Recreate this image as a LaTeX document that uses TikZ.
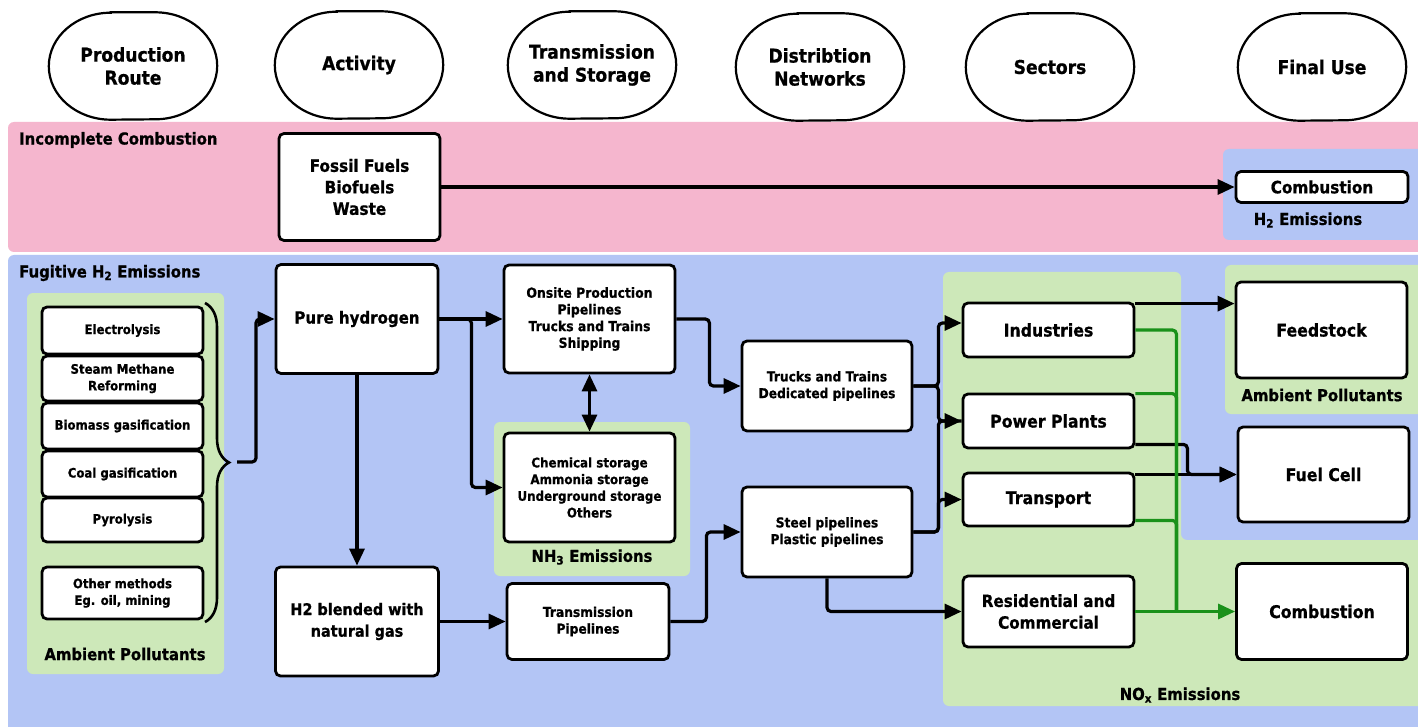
\documentclass[tikz,border=0pt]{standalone}
\usepackage{fontspec}
\setmainfont{DejaVu Sans}[FakeStretch=0.9, BoldFeatures={FakeBold=0.8}]
\usetikzlibrary{arrows.meta,decorations.pathreplacing,calc}
\definecolor{pinkbg}{RGB}{245,182,206}
\definecolor{bluebg}{RGB}{179,197,245}
\definecolor{greenbg}{RGB}{205,232,185}
\definecolor{glinec}{RGB}{26,145,26}
\newcommand\fs[2]{\fontsize{#1}{#2}\selectfont\bfseries}
\newcommand\hdrshape[1]{%
  \filldraw[fill=white, line width=2.2pt]
    ($(#1.north west)+(62,0)$) -- ($(#1.north east)+(-62,0)$)
    arc[start angle=90, end angle=0, x radius=62pt, y radius=53.5pt]
    arc[start angle=0, end angle=-90, x radius=62pt, y radius=53.5pt]
    -- ($(#1.south west)+(62,0)$)
    arc[start angle=270, end angle=180, x radius=62pt, y radius=53.5pt]
    arc[start angle=180, end angle=90, x radius=62pt, y radius=53.5pt] -- cycle;}
\begin{document}
\begin{tikzpicture}[x=1pt,y=-1pt,
  box/.style={draw, line width=2.8pt, rounded corners=5pt, fill=white, align=center, inner sep=0pt},
  hdr/.style={minimum width=168pt, minimum height=107pt, align=center, inner sep=0pt, font={\fs{19}{23}}},
  conn/.style={line width=3.2pt, rounded corners=4pt},
  arr/.style={conn, -{Triangle[length=17pt,width=15pt]}},
  garr/.style={conn, draw=glinec, -{Triangle[length=17pt,width=15pt]}},
  gconn/.style={conn, draw=glinec},
  lbl/.style={inner sep=0pt, font={\fs{16.5}{20}}},
  pbox/.style={box, minimum width=161pt, font={\fs{13}{16.7}}},
  sbox/.style={box, minimum width=171pt, font={\fs{17.5}{21.7}}},
  tbox/.style={box, font={\fs{13.6}{16.7}}}
]
\clip (0,0) rectangle (1418,727);
\fill[white] (0,0) rectangle (1418,727);
% bands
\fill[pinkbg, rounded corners=6pt] (8,122) rectangle (1440,252);
\fill[bluebg, rounded corners=6pt] (8,255) rectangle (1440,745);
\fill[bluebg, rounded corners=6pt] (1223,149) rectangle (1440,240);
\fill[greenbg, rounded corners=6pt] (27,293) rectangle (224,674);
\fill[greenbg, rounded corners=6pt] (494,422) rectangle (690,576);
\fill[greenbg, rounded corners=6pt] (1225,265) rectangle (1440,414);
\fill[greenbg, rounded corners=6pt] (943,272) -- (1181,272) -- (1181,540) -- (1440,540) -- (1440,706) -- (943,706) -- cycle;

% headers
\path (133,66) node[hdr] (h1) {} (359,65) node[hdr] (h2) {} (592,65) node[hdr] (h3) {}
      (820,67) node[hdr] (h4) {} (1050,67) node[hdr] (h5) {} (1322,67) node[hdr] (h6) {};
\hdrshape{h1}\hdrshape{h2}\hdrshape{h3}\hdrshape{h4}\hdrshape{h5}\hdrshape{h6}
\node[hdr] (t1) at (h1) {Production\\Route};
\node[hdr] (t2) at (h2) {Activity};
\node[hdr] (t3) at (h3) {Transmission\\and Storage};
\node[hdr] (t4) at (h4) {Distribtion\\Networks};
\node[hdr] (t5) at (h5) {Sectors};
\node[hdr] (t6) at (h6) {Final Use};

% labels
\node[lbl, anchor=west] (lic) at (19,140) {Incomplete Combustion};
\node[lbl, anchor=west] (lfe) at (19,273) {Fugitive H\textsubscript{2} Emissions};
\node[lbl] (lap1) at (125,654) {Ambient Pollutants};
\node[lbl] (lh2) at (1308,220) {H\textsubscript{2} Emissions};
\node[lbl] (lnh) at (592,557) {NH\textsubscript{3} Emissions};
\node[lbl] (lap2) at (1322,395) {Ambient Pollutants};
\node[lbl] (lnox) at (1180,695) {NO\textsubscript{x} Emissions};

% activity
\node[box, minimum width=161pt, minimum height=107pt, font={\fs{17}{21.5}}] (fossil) at (359.5,187) {Fossil Fuels\\Biofuels\\Waste};
\node[box, minimum width=172pt, minimum height=31pt, font={\fs{17}{21}}] (comb1) at (1322,187) {Combustion};

% production routes
\node[pbox, minimum height=47pt] (elec) at (122.5,330.5) {Electrolysis};
\node[pbox, minimum height=45pt] (smr) at (122.5,378.5) {Steam Methane\\Reforming};
\node[pbox, minimum height=46pt] (bio) at (122.5,426) {Biomass gasification};
\node[pbox, minimum height=46pt] (coal) at (122.5,474) {Coal gasification};
\node[pbox, minimum height=44pt] (pyro) at (122.5,520) {Pyrolysis};
\node[pbox, minimum height=52pt] (other) at (122.5,593) {Other methods\\Eg. oil, mining};
\draw[line width=2.6pt, decorate, decoration={brace, amplitude=24pt, aspect=0.5}] (205,303) -- (205,622);
\coordinate (bt) at (237,462);

% activity column
\node[box, minimum width=162pt, minimum height=109pt, font={\fs{16.7}{21}}] (pure) at (357,319) {Pure hydrogen};
\node[box, minimum width=163pt, minimum height=109pt, font={\fs{16}{21.7}}] (blend) at (357,621.5) {H2 blended with\\natural gas};

% transmission and storage
\node[tbox, minimum width=171pt, minimum height=108pt, font={\fs{13.8}{16.7}}] (onsite) at (589.5,319) {Onsite Production\\Pipelines\\Trucks and Trains\\Shipping};
\node[tbox, minimum width=171pt, minimum height=109pt, font={\fs{13.2}{16.7}}] (chem) at (589.5,487.5) {Chemical storage\\Ammonia storage\\Underground storage\\Others};
\node[tbox, minimum width=162pt, minimum height=76pt] (tpipe) at (588,621.5) {Transmission\\Pipelines};

% distribution
\node[tbox, minimum width=170pt, minimum height=90pt] (trucks) at (827,386) {Trucks and Trains\\Dedicated pipelines};
\node[tbox, minimum width=170pt, minimum height=90pt] (steel) at (827,532) {Steel pipelines\\Plastic pipelines};

% sectors
\node[sbox, minimum height=54pt] (ind) at (1048.5,330) {Industries};
\node[sbox, minimum height=54pt] (power) at (1048.5,421) {Power Plants};
\node[sbox, minimum height=53pt] (transp) at (1048.5,499.5) {Transport};
\node[sbox, minimum height=71pt, font={\fs{16.9}{21.7}}] (resid) at (1048.5,611.5) {Residential and\\Commercial};

% final use
\node[sbox, minimum height=96pt] (feed) at (1321.5,330) {Feedstock};
\node[sbox, minimum height=95pt] (fuel) at (1323.5,474.5) {Fuel Cell};
\node[sbox, minimum height=96pt] (comb2) at (1322,611.5) {Combustion};

% connectors
\draw[arr] (fossil.east) -- (comb1.west);
\draw[arr] (bt) -- ++(19,0) |- (pure.west);
\draw[arr] (pure.south) -- (blend.north);
\draw[arr] (pure.east) -- (onsite.west);
\draw[arr] (pure.east) -- ++(32,0) |- (chem.west);
\draw[conn, {Triangle[length=17pt,width=15pt]}-{Triangle[length=17pt,width=15pt]}] (onsite.south) -- (chem.north);
\draw[arr] (blend.east) -- (tpipe.west);
\draw[arr] (onsite.east) -- ++(33,0) |- (trucks.west);
\draw[arr] (tpipe.east) -- ++(36,0) |- (steel.west);
\draw[arr] (trucks.east) -- ++(25,0) |- ([yshift=7pt]ind.west);
\draw[arr] (trucks.east) -- ++(25,0) |- (power.west);
\draw[conn] (steel.east) -- ++(25,0) |- (power.west);
\draw[arr] (steel.east) -- ++(25,0) |- (transp.west);
\draw[arr] (steel.south) |- (resid.west);
\draw[arr] ([yshift=-2pt]ind.north east) -- ([yshift=-2pt]ind.north east -| feed.west);
\draw[arr] ([yshift=5pt]power.south east) -- ++(52,0) |- (fuel.west);
\draw[arr] (transp.north east |- fuel.west) -- (fuel.west);
\coordinate (gj) at ($(resid.east)+(41,0)$);
\draw[gconn] (ind.east) -| (gj);
\draw[gconn] ([yshift=-1pt]power.north east) -| (gj);
\draw[gconn] ([yshift=7pt]transp.south east) -| (gj);
\draw[garr] (resid.east) -- (comb2.west);
\end{tikzpicture}
\end{document}
